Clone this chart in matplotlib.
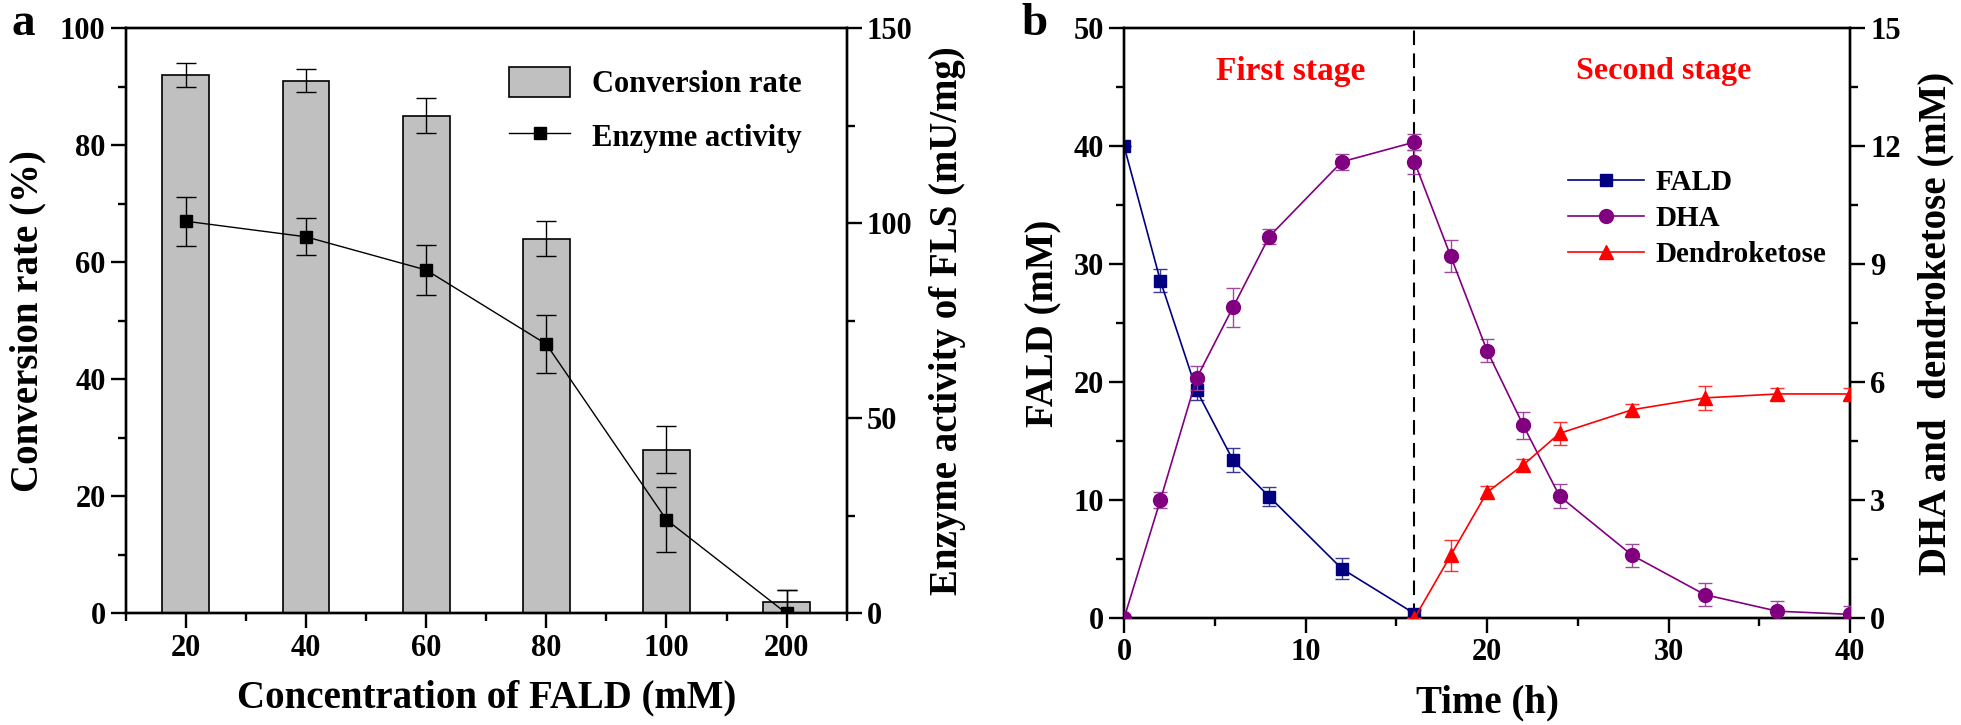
import matplotlib
matplotlib.use('Agg')
import matplotlib.pyplot as plt
import numpy as np
from matplotlib.ticker import MultipleLocator
from matplotlib.lines import Line2D
from matplotlib.patches import Patch

plt.rcParams['font.family'] = ['Liberation Serif', 'DejaVu Serif']
plt.rcParams['font.weight'] = 'bold'
plt.rcParams['axes.linewidth'] = 1.7

# painel a
concentracoes = ['20', '40', '60', '80', '100', '200']
conversao = [92, 91, 85, 64, 28, 2]
conversao_err = [2, 2, 3, 3, 4, 2]
atividade = [100.5, 96.5, 88, 69, 24, 0]
atividade_err = [6.3, 4.7, 6.4, 7.5, 8.3, 6]

# painel b
t_fald = [0, 2, 4, 6, 8, 12, 16]
fald = [40, 28.6, 19.3, 13.4, 10.3, 4.2, 0.4]
fald_err = [0, 1.0, 0.8, 1.0, 0.8, 0.9, 0.3]

t_dha1 = [0, 2, 4, 6, 8, 12, 16]
dha1 = [0, 3.0, 6.1, 7.9, 9.7, 11.6, 12.1]
dha1_err = [0, 0.2, 0.3, 0.5, 0.2, 0.2, 0.2]
t_dha2 = [16, 18, 20, 22, 24, 28, 32, 36, 40]
dha2 = [11.6, 9.2, 6.8, 4.9, 3.1, 1.6, 0.6, 0.18, 0.1]
dha2_err = [0.3, 0.4, 0.3, 0.35, 0.3, 0.3, 0.3, 0.25, 0.2]

t_dk = [16, 18, 20, 22, 24, 28, 32, 36, 40]
dendroketose = [0, 1.6, 3.2, 3.9, 4.7, 5.3, 5.6, 5.7, 5.7]
dendroketose_err = [0, 0.4, 0.15, 0.15, 0.3, 0.15, 0.3, 0.15, 0.15]

tick_fs = 22
label_fs = 28
azul = '#000080'
roxo = '#800080'
vermelho = '#ff0000'


def estilo_eixo(ax):
    ax.tick_params(which='major', direction='out', length=11, width=1.7, labelsize=tick_fs, top=False)
    ax.tick_params(which='minor', direction='out', length=6, width=1.7, top=False)
    for lab in ax.get_xticklabels() + ax.get_yticklabels():
        lab.set_fontweight('bold')


fig = plt.figure(figsize=(19.61, 7.25), dpi=100)

# ---------------- painel a ----------------
ax1 = fig.add_axes([0.0641, 0.1538, 0.3677, 0.8076])
x = np.arange(1, len(concentracoes) + 1)
ax1.bar(x, conversao, width=0.39, color='#c0c0c0', edgecolor='black', linewidth=1.2,
        yerr=conversao_err, error_kw=dict(ecolor='black', elinewidth=1, capsize=7, capthick=1),
        zorder=2)
ax1.set_xlim(0.5, 6.5)
ax1.set_ylim(0, 100)
ax1.set_xticks(x)
ax1.set_xticklabels(concentracoes)
ax1.xaxis.set_minor_locator(MultipleLocator(1, offset=0.5))
ax1.yaxis.set_major_locator(MultipleLocator(20))
ax1.yaxis.set_minor_locator(MultipleLocator(10))
ax1.set_xlabel('Concentration of FALD (mM)', fontsize=label_fs, fontweight='bold', labelpad=12)
ax1.set_ylabel('Conversion rate (%)', fontsize=label_fs, fontweight='bold', labelpad=10)
estilo_eixo(ax1)

ax1b = ax1.twinx()
ax1b.errorbar(x, atividade, yerr=atividade_err, color='black', lw=1, marker='s', markersize=8,
              ecolor='black', elinewidth=1, capsize=7, capthick=1, zorder=3)
ax1b.set_ylim(0, 150)
ax1b.yaxis.set_major_locator(MultipleLocator(50))
ax1b.yaxis.set_minor_locator(MultipleLocator(25))
ax1b.set_ylabel('Enzyme activity of FLS (mU/mg)', fontsize=label_fs, fontweight='bold',
                rotation=90, labelpad=12)
estilo_eixo(ax1b)

leg_a = [Patch(facecolor='#c0c0c0', edgecolor='black', linewidth=1.2, label='Conversion rate'),
         Line2D([], [], color='black', lw=1, marker='s', markersize=8, label='Enzyme activity')]
ax1b.legend(handles=leg_a, loc='upper right', bbox_to_anchor=(0.975, 0.98), frameon=False,
            prop=dict(size=22, weight='bold'), handlelength=2.0, handleheight=1.1,
            labelspacing=0.7, handletextpad=0.7)

fig.text(0.006, 0.952, 'a', fontsize=34, fontweight='bold')

# ---------------- painel b ----------------
ax2 = fig.add_axes([0.5732, 0.1472, 0.3702, 0.8142])
ax2.errorbar(t_fald, fald, yerr=fald_err, color=azul, lw=1.2, marker='s', markersize=8.5,
             ecolor='#3a3a90', elinewidth=1, capsize=5, capthick=1, zorder=3)
ax2.axvline(16, color='black', lw=1.5, ls=(0, (7, 4)), zorder=1)
ax2.set_xlim(0, 40)
ax2.set_ylim(0, 50)
ax2.xaxis.set_major_locator(MultipleLocator(10))
ax2.xaxis.set_minor_locator(MultipleLocator(5))
ax2.yaxis.set_major_locator(MultipleLocator(10))
ax2.yaxis.set_minor_locator(MultipleLocator(5))
ax2.set_xlabel('Time (h)', fontsize=label_fs, fontweight='bold', labelpad=12)
ax2.set_ylabel('FALD (mM)', fontsize=label_fs, fontweight='bold', labelpad=8)
estilo_eixo(ax2)

ax2b = ax2.twinx()
ax2b.errorbar(t_dha1, dha1, yerr=dha1_err, color=roxo, lw=1.2, marker='o', markersize=10,
              ecolor='#9a4a9a', elinewidth=1, capsize=5, capthick=1, zorder=3)
ax2b.errorbar(t_dha2, dha2, yerr=dha2_err, color=roxo, lw=1.2, marker='o', markersize=10,
              ecolor='#9a4a9a', elinewidth=1, capsize=5, capthick=1, zorder=3)
ax2b.errorbar(t_dk, dendroketose, yerr=dendroketose_err, color=vermelho, lw=1.2, marker='^',
              markersize=10.5, ecolor='#ff3030', elinewidth=1, capsize=5, capthick=1, zorder=3)
ax2b.set_ylim(0, 15)
ax2b.yaxis.set_major_locator(MultipleLocator(3))
ax2b.yaxis.set_minor_locator(MultipleLocator(1.5))
ax2b.set_ylabel('DHA and  dendroketose (mM)', fontsize=label_fs, fontweight='bold',
                rotation=90, labelpad=12)
estilo_eixo(ax2b)

leg_b = [Line2D([], [], color=azul, lw=1.2, marker='s', markersize=8.5, label='FALD'),
         Line2D([], [], color=roxo, lw=1.2, marker='o', markersize=10, label='DHA'),
         Line2D([], [], color=vermelho, lw=1.2, marker='^', markersize=10.5, label='Dendroketose')]
ax2b.legend(handles=leg_b, loc='upper left', bbox_to_anchor=(0.575, 0.805), frameon=False,
            prop=dict(size=21, weight='bold'), handlelength=2.6, labelspacing=0.3, handletextpad=0.4)

ax2.text(9.2, 46.3, 'First stage', color='red', fontsize=24, fontweight='bold', ha='center', va='center')
ax2.text(29.75, 46.3, 'Second stage', color='red', fontsize=23, fontweight='bold', ha='center', va='center')

fig.text(0.521, 0.952, 'b', fontsize=34, fontweight='bold')

fig.savefig('out.png', dpi=100)
